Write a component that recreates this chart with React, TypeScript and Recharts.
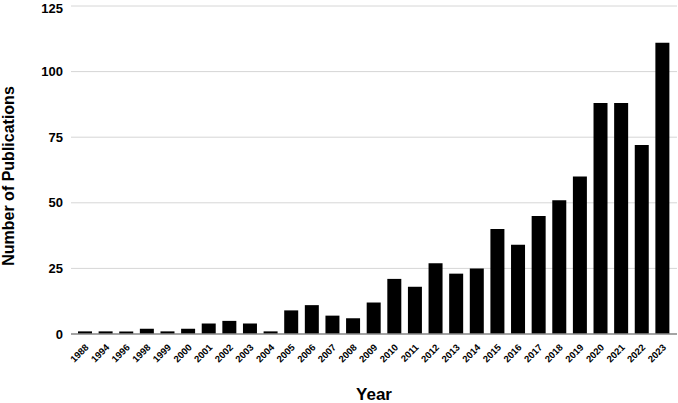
import React from 'react';
import { BarChart, Bar, XAxis, YAxis, CartesianGrid, Label } from 'recharts';

const YEARS = [
    '1988', '1994', '1996', '1998', '1999', '2000', '2001', '2002', '2003', '2004',
    '2005', '2006', '2007', '2008', '2009', '2010', '2011', '2012', '2013', '2014',
    '2015', '2016', '2017', '2018', '2019', '2020', '2021', '2022', '2023'
];

const PUBLICATIONS = [
    1, 1, 1, 2, 1, 2, 4, 5, 4, 1,
    9, 11, 7, 6, 12, 21, 18, 27, 23, 25,
    40, 34, 45, 51, 60, 88, 88, 72, 111
];

const Y_TICKS = [0, 25, 50, 75, 100, 125];

const FONT = '"Liberation Sans", Arial, Helvetica, sans-serif';

const data = YEARS.map((year, i) => ({ year, count: PUBLICATIONS[i] }));

const YearTick = ({ x, y, payload }: any) => (
    <g transform={`translate(${x + 4},${y + 14})`}>
        <text
            x={0}
            y={0}
            textAnchor="end"
            transform="rotate(-45)"
            fontFamily={FONT}
            fontWeight="bold"
            fontSize={9.5}
            fill="#000"
        >
            {payload.value}
        </text>
    </g>
);

const YTitle = ({ viewBox }: any) => {
    const cy = viewBox.y + viewBox.height / 2 + 6;
    return (
        <text
            x={14}
            y={cy}
            transform={`rotate(-90, 14, ${cy})`}
            textAnchor="middle"
            fontFamily={FONT}
            fontWeight="bold"
            fontSize={16}
            fill="#000"
        >
            Number of Publications
        </text>
    );
};

const XTitle = ({ viewBox }: any) => (
    <text
        x={viewBox.x + viewBox.width / 2}
        y={viewBox.y + viewBox.height - 3}
        textAnchor="middle"
        fontFamily={FONT}
        fontWeight="bold"
        fontSize={17}
        fill="#000"
    >
        Year
    </text>
);

export default function App() {
    return (
        <div style={{ position: 'absolute', left: 0, top: 0, width: 678, height: 403, background: '#fff' }}>
            <BarChart
                width={678}
                height={403}
                data={data}
                margin={{ top: 6, right: 1, bottom: 0, left: 0 }}
            >
                <CartesianGrid vertical={false} stroke="#d6d6d6" strokeWidth={1} />
                <XAxis
                    dataKey="year"
                    height={69}
                    interval={0}
                    tick={<YearTick />}
                    tickLine={false}
                    tickSize={0}
                    tickMargin={0}
                    axisLine={{ stroke: '#8c8c8c', strokeWidth: 1.5 }}
                    padding={{ left: 4, right: 4 }}
                >
                    <Label content={<XTitle />} />
                </XAxis>
                <YAxis
                    width={71}
                    domain={[0, 125]}
                    ticks={Y_TICKS}
                    tickLine={false}
                    tickSize={0}
                    tickMargin={8}
                    axisLine={false}
                    tick={{ fill: '#000', fontFamily: FONT, fontWeight: 'bold', fontSize: 13 }}
                >
                    <Label content={<YTitle />} />
                </YAxis>
                <Bar dataKey="count" fill="#000" barSize={14} isAnimationActive={false} />
            </BarChart>
        </div>
    );
}
